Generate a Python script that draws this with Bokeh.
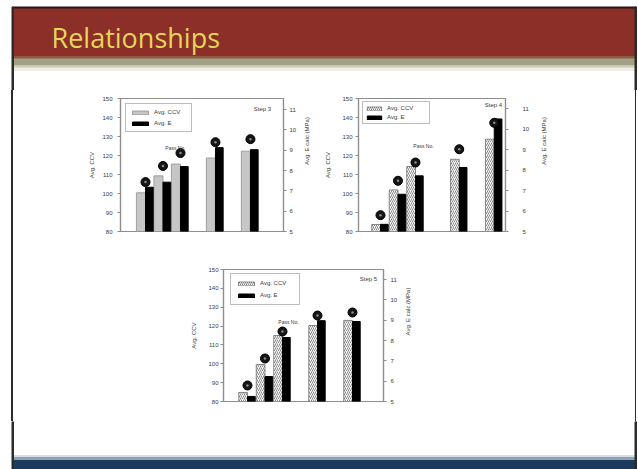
import math
from bokeh.plotting import figure
from bokeh.models import (Range1d, LinearAxis, FixedTicker, Legend, LegendItem, Label,
                          ColumnDataSource, Spacer)
from bokeh.layouts import column, row
from bokeh.transform import dodge
from bokeh.core.properties import value
from bokeh.embed import file_html
from bokeh.resources import INLINE

SLIDE_TITLE = "Relationships"

# ---- data ----
step3_pass = [1, 2, 3, 5, 7]
step3_ccv = [100.4, 109.3, 115.5, 118.7, 122.3]
step3_ecalc = [7.18, 7.43, 8.20, 9.13, 9.03]
step3_marker = [106.0, 114.5, 121.3, 127.0, 128.6]

step4_pass = [1, 2, 3, 5.5, 7.5]
step4_ccv = [83.7, 101.9, 114.2, 118.0, 128.6]
step4_ecalc = [5.35, 6.82, 7.72, 8.13, 10.50]
step4_marker = [88.6, 106.7, 116.3, 123.3, 137.2]

step5_pass = [1, 2, 3, 5, 7]
step5_ccv = [84.8, 99.6, 115.0, 120.3, 123.0]
step5_ecalc = [5.25, 6.23, 8.15, 8.98, 8.94]
step5_marker = [88.5, 102.8, 117.1, 125.6, 127.2]

ccv_ticks = [80, 90, 100, 110, 120, 130, 140, 150]
e_ticks = [5, 6, 7, 8, 9, 10, 11]

FONT = "Liberation Sans"
GRID = "#8e8e8e"
TXT = "#3a3a3a"
BORDER = "#2b2b2b"


def blank(w, h):
    p = figure(width=w, height=h, x_range=Range1d(0, w), y_range=Range1d(h, 0),
               toolbar_location=None, output_backend="svg", min_border=0, title=None,
               x_axis_location=None, y_axis_location=None, outline_line_color=None)
    p.grid.grid_line_color = None
    p.background_fill_color = "white"
    p.border_fill_color = "white"
    return p


def make_chart(passes, ccv, ecalc, marker, step_text, g):
    L, R, T, B = g["frame"]
    fx0, fy0, fw, fh = g["fig"]
    x0, x1 = g["xr"]
    p = figure(width=fw, height=fh, x_range=Range1d(x0, x1), y_range=Range1d(80, 150),
               toolbar_location=None, output_backend="svg", title=None,
               min_border_left=L - fx0, min_border_right=fx0 + fw - R,
               min_border_top=T - fy0, min_border_bottom=fy0 + fh - B,
               x_axis_location=None, y_axis_location="left")
    p.extra_y_ranges = {"e": Range1d(5, g["e_top"])}
    p.grid.grid_line_color = None
    p.outline_line_color = GRID
    p.outline_line_width = 1.2
    p.background_fill_color = "white"
    p.border_fill_color = "white"

    def px2x(px):
        return x0 + (px - L) / (R - L) * (x1 - x0)

    def py2y(py):
        return 150 - (py - T) / (B - T) * 70

    src = ColumnDataSource(dict(x=passes, ccv=ccv, e=ecalc, m=marker))
    if g["hatch"]:
        r_ccv = p.vbar(x=dodge("x", -0.25), top="ccv", bottom=80, width=0.5, source=src,
                       fill_color="white", line_color="#707070", line_width=0.8,
                       hatch_pattern="/", hatch_color="#7a7a7a", hatch_scale=4, hatch_weight=0.9)
    else:
        r_ccv = p.vbar(x=dodge("x", -0.26), top="ccv", bottom=80, width=0.52, source=src,
                       fill_color="#c6c6c6", line_color="#909090", line_width=0.8)
    r_e = p.vbar(x=dodge("x", 0.22), top="e", bottom=5, width=0.44, source=src,
                 y_range_name="e", fill_color="black", line_color="black")
    p.scatter(x="x", y="m", size=9, source=src, marker="circle",
              fill_color="#151515", line_color="#000000")
    p.scatter(x="x", y="m", size=2.5, source=src, marker="circle",
              fill_color="#8a8a8a", line_color=None)

    ax_l = p.yaxis[0]
    ax_l.ticker = FixedTicker(ticks=ccv_ticks)
    ax_l.axis_label = "Avg. CCV"
    ax_r = LinearAxis(y_range_name="e", ticker=FixedTicker(ticks=e_ticks),
                      axis_label=g["right_label"])
    p.add_layout(ax_r, "right")
    for ax, so, lso in ((ax_l, g["l_standoff"], g["l_lab_standoff"]),
                        (ax_r, g["r_standoff"], g["r_lab_standoff"])):
        ax.axis_line_color = GRID
        ax.axis_line_width = 1.2
        ax.major_tick_line_color = GRID
        ax.major_tick_out = 3
        ax.major_tick_in = 0
        ax.minor_tick_line_color = None
        ax.major_label_text_font = FONT
        ax.major_label_text_font_size = "6px"
        ax.major_label_text_color = TXT
        ax.major_label_standoff = so
        ax.axis_label_text_font = FONT
        ax.axis_label_text_font_size = "6px"
        ax.axis_label_text_font_style = "normal"
        ax.axis_label_text_color = TXT
        ax.axis_label_standoff = lso
    ax_r.axis_label_orientation = math.pi / 2

    pad, sp = g["leg_pad"], g["leg_spacing"]
    leg = Legend(items=[LegendItem(label="Avg. CCV", renderers=[r_ccv]),
                        LegendItem(label="Avg. E", renderers=[r_e])],
                 location=g["leg_loc"], padding=pad, spacing=sp, margin=0,
                 glyph_width=g["leg_gw"], glyph_height=5, label_height=8, label_standoff=4,
                 label_width=g["leg_lw"],
                 label_text_font=FONT, label_text_font_size="6px", label_text_color=TXT,
                 border_line_color="#7a7a7a", border_line_width=1,
                 background_fill_color="white", background_fill_alpha=1)
    p.add_layout(leg)
    sx0, sy0 = g["sub_pos"]
    p.add_layout(Label(x=px2x(sx0), y=py2y(sy0), text="calc", text_font=FONT,
                       text_font_size="4.5px", text_color=TXT, text_baseline="alphabetic"))

    sx, sy = g["step_pos"]
    p.add_layout(Label(x=px2x(sx), y=py2y(sy), text=step_text, text_font=FONT,
                       text_font_size="6px", text_color=TXT, text_align="center",
                       text_baseline="middle"))
    qx, qy = g["pass_pos"]
    p.add_layout(Label(x=px2x(qx), y=py2y(qy), text="Pass No.", text_font=FONT,
                       text_font_size="5px", text_color=TXT, text_align="center",
                       text_baseline="middle"))
    return p


RIGHT_LABEL = "Avg. E calc (MPa)"

c1 = make_chart(step3_pass, step3_ccv, step3_ecalc, step3_marker, "Step 3", dict(
    frame=(120, 283, 98, 231), fig=(14, 90, 304, 165), xr=(-0.43, 8.89), e_top=11.55,
    hatch=False, right_label=RIGHT_LABEL, l_standoff=5, l_lab_standoff=4,
    r_standoff=3, r_lab_standoff=8, leg_loc=(5, 99), leg_pad=4, leg_spacing=3,
    leg_gw=20, leg_lw=33,
    sub_pos=(171, 128), step_pos=(262, 108), pass_pos=(175, 147)))

c2 = make_chart(step4_pass, step4_ccv, step4_ecalc, step4_marker, "Step 4", dict(
    frame=(358, 505, 98, 231), fig=(318, 90, 306, 165), xr=(-0.257, 8.143), e_top=11.5,
    hatch=True, right_label=RIGHT_LABEL, l_standoff=3, l_lab_standoff=8,
    r_standoff=14, r_lab_standoff=12, leg_loc=(4, 107), leg_pad=2, leg_spacing=1,
    leg_gw=18, leg_lw=40,
    sub_pos=(403, 121), step_pos=(493, 104), pass_pos=(423, 145)))

c3 = make_chart(step5_pass, step5_ccv, step5_ecalc, step5_marker, "Step 5", dict(
    frame=(223, 383, 269, 401), fig=(14, 255, 610, 166), xr=(-0.371, 8.771), e_top=11.5,
    hatch=True, right_label=RIGHT_LABEL, l_standoff=2, l_lab_standoff=8,
    r_standoff=4, r_lab_standoff=8, leg_loc=(7, 96), leg_pad=5, leg_spacing=4,
    leg_gw=20, leg_lw=34,
    sub_pos=(277, 297), step_pos=(368, 278), pass_pos=(288, 321)))

# ---- slide decorations (page pixel coordinates) ----
W = 638
hdr = blank(W, 90)
hdr.quad(left=[12], right=[636], top=[6.5], bottom=[8.5], color="#2a1515")
hdr.quad(left=[12], right=[635], top=[8.5], bottom=[56], color="#8b2f28")
hdr.quad(left=[12], right=[635], top=[56], bottom=[58.5], color="#8f5a45")
hdr.quad(left=[12], right=[635], top=[58.5], bottom=[65], color="#a2a186")
hdr.quad(left=[12], right=[635], top=[65], bottom=[67.5], color="#c9c9b6")
hdr.quad(left=[12], right=[635], top=[67.5], bottom=[70], color="#eeeee6")
hdr.text(x=[51], y=[37], text=[SLIDE_TITLE], text_font=value("Open Sans"),
         text_font_size="27px", text_color="#e6d65a", text_baseline="alphabetic")
hdr.quad(left=[11.5], right=[13], top=[6.5], bottom=[90], color=BORDER)
hdr.quad(left=[634.5], right=[636], top=[6.5], bottom=[90], color=BORDER)

ftr = blank(W, 48)
ftr.quad(left=[12], right=[635], top=[34], bottom=[36], color="#d5dde6")
ftr.quad(left=[12], right=[635], top=[36], bottom=[39], color="#8ea3b9")
ftr.quad(left=[12], right=[635], top=[39], bottom=[48], color="#1b3a5c")
ftr.quad(left=[11.5], right=[13], top=[0], bottom=[48], color=BORDER)
ftr.quad(left=[634.5], right=[636], top=[0], bottom=[48], color=BORDER)


def edge(h, left_side):
    if left_side:
        grad = ("linear-gradient(to right, #ffffff 0px, #ffffff 11.5px, "
                "#2b2b2b 11.5px, #2b2b2b 13px, #ffffff 13px)")
    else:
        grad = ("linear-gradient(to right, #ffffff 0px, #ffffff 10.5px, "
                "#2b2b2b 10.5px, #2b2b2b 12px, #ffffff 12px)")
    return Spacer(width=14, height=h, styles={"background": grad})


rowA = row(edge(165, True), c1, c2, edge(165, False), spacing=0)
rowB = row(edge(166, True), c3, edge(166, False), spacing=0)
page = column(hdr, rowA, rowB, ftr, spacing=0)

open("out.html", "w").write(file_html(page, INLINE))
